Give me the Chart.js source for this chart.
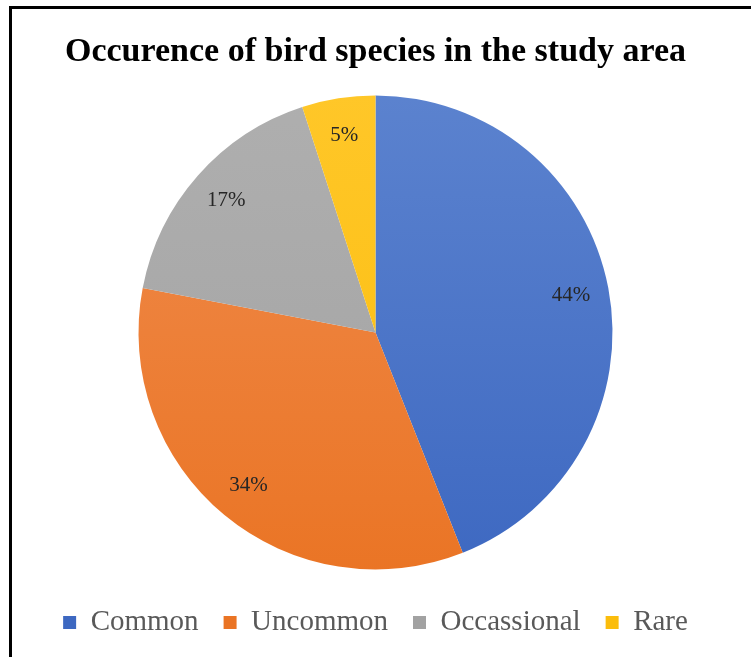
<!DOCTYPE html>
<html>
<head>
<meta charset="utf-8">
<script src="https://cdn.jsdelivr.net/npm/chart.js@4"></script>
<style>
  html, body { margin: 0; padding: 0; background: #fff; }
  #frame {
    position: absolute; left: 9px; top: 6px; width: 742px; height: 651px;
    border-top: 3px solid #000; border-left: 3px solid #000; box-sizing: border-box;
  }
  #wrap { position: absolute; left: 0; top: 0; width: 751px; height: 657px; }
</style>
</head>
<body>
<div id="frame"></div>
<div id="wrap"><canvas id="birds"></canvas></div>
<script>
const categories = ['Common', 'Uncommon', 'Occassional', 'Rare'];
const shares = [44, 34, 17, 5];
const topColors = ['#5c83cf', '#f08c4e', '#afafaf', '#ffc729'];
const baseColors = ['#3d68c1', '#ea7424', '#a2a2a2', '#fbbd0c'];

const ctx = document.querySelector('#birds').getContext('2d');

// vertical light-to-dark fill like the office chart style
var sliceFill = function(context) {
    const area = context.chart.chartArea;
    const i = context.dataIndex;
    if (!area) return baseColors[i];
    const g = context.chart.ctx.createLinearGradient(0, area.top, 0, area.bottom);
    g.addColorStop(0, topColors[i]);
    g.addColorStop(1, baseColors[i]);
    return g;
};

const percentLabels = {
    id: 'percentLabels',
    afterDatasetsDraw(chart) {
        const c = chart.ctx;
        const meta = chart.getDatasetMeta(0);
        c.save();
        c.font = '21px "Liberation Serif", "Times New Roman", serif';
        c.fillStyle = '#262626';
        c.textAlign = 'center';
        c.textBaseline = 'middle';
        meta.data.forEach((arc, i) => {
            const p = arc.getProps(['x', 'y', 'startAngle', 'endAngle', 'outerRadius'], true);
            const mid = (p.startAngle + p.endAngle) / 2;
            const r = p.outerRadius * 0.84;
            c.fillText(shares[i] + '%', p.x + Math.cos(mid) * r, p.y + Math.sin(mid) * r);
        });
        c.restore();
    }
};

const birdChart = new Chart(ctx, {
    type: 'pie',
    data: {
        labels: categories,
        datasets: [{
            data: shares,
            backgroundColor: sliceFill,
            borderWidth: 0,
            radius: 237
        }]
    },
    options: {
        responsive: true,
        maintainAspectRatio: false,
        animation: false,
        layout: { padding: { top: 18, bottom: 10, left: 20, right: 20 } },
        plugins: {
            title: {
                display: true,
                text: 'Occurence of bird species in the study area',
                color: '#000',
                font: { family: '"Liberation Serif", "Times New Roman", serif', size: 34, weight: 'bold' },
                padding: { top: 14, bottom: 9 }
            },
            legend: {
                position: 'bottom',
                labels: {
                    color: '#595959',
                    boxWidth: 13,
                    boxHeight: 13,
                    padding: 25,
                    font: { family: '"Liberation Serif", "Times New Roman", serif', size: 29 }
                }
            },
            tooltip: { enabled: false }
        }
    },
    plugins: [percentLabels]
});
</script>
</body>
</html>
